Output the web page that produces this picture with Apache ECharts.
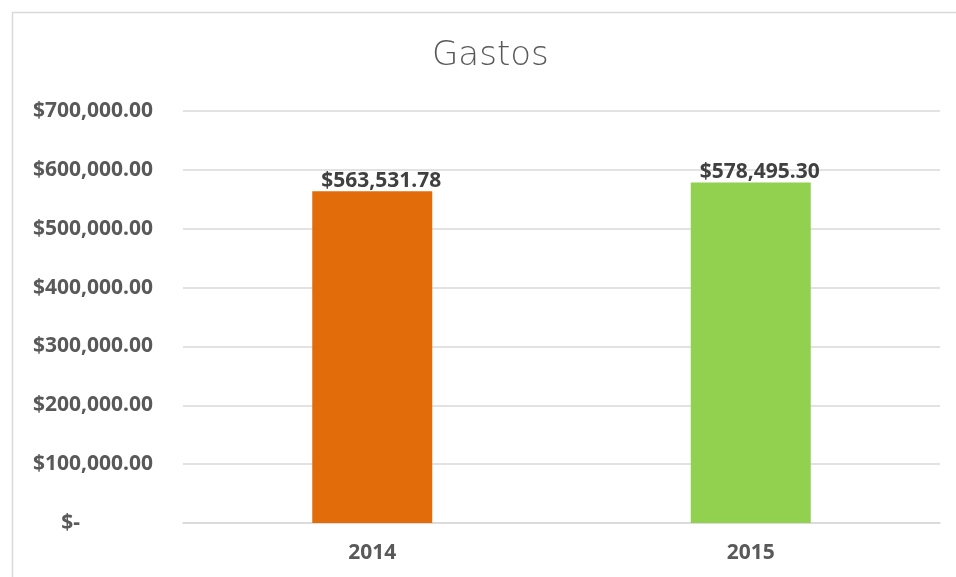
<!DOCTYPE html>
<html><head><meta charset="utf-8">
<script src="https://cdn.jsdelivr.net/npm/echarts@6/dist/echarts.min.js"></script>
<style>html,body{margin:0;padding:0;background:#fff;}#c{width:956px;height:577px;}</style>
</head><body><div id="c"></div>
<script>
const title = 'Gastos';
const categories = ['2014', '2015'];
const values = [563531.78, 578495.30];
const barColors = ['#E36C0A', '#92D050'];
const yTicks = [0, 100000, 200000, 300000, 400000, 500000, 600000, 700000];

function money(v) {
  if (v === 0) return '$-';
  return '$' + v.toLocaleString('en-US', {minimumFractionDigits: 2, maximumFractionDigits: 2});
}

const chart = echarts.init(document.getElementById('c'));
chart.setOption({
  animation: false,
  graphic: [{
    type: 'rect', left: 10, top: 10, z: -1,
    shape: {width: 1000, height: 700},
    style: {fill: 'none', stroke: '#d9d9d9', lineWidth: 1.5}
  }],
  title: {
    text: title, left: 427, top: 34,
    textStyle: {fontFamily: 'DejaVu Sans', fontWeight: 200, fontSize: 34, color: '#595959'}
  },
  grid: {left: 183, right: 16, top: 111, bottom: 54},
  xAxis: {
    type: 'category', data: categories,
    axisLine: {lineStyle: {color: '#d9d9d9', width: 1.5}},
    axisTick: {show: false},
    axisLabel: {margin: 20, fontFamily: 'Noto Sans', fontWeight: 'bold', fontSize: 21, color: '#595959'}
  },
  yAxis: {
    type: 'value', min: yTicks[0], max: yTicks[yTicks.length - 1], interval: yTicks[1] - yTicks[0],
    axisLine: {show: false}, axisTick: {show: false},
    splitLine: {lineStyle: {color: '#d9d9d9', width: 1.5}},
    axisLabel: {
      margin: 30, fontFamily: 'Noto Sans', fontWeight: 'bold', fontSize: 21, color: '#595959',
      formatter: v => v === 0 ? '{z|$-}' : money(v),
      rich: {z: {padding: [0, 73, 0, 0], fontFamily: 'Noto Sans', fontWeight: 'bold', fontSize: 21, color: '#595959'}}
    }
  },
  series: [{
    type: 'bar', barWidth: '31.7%',
    data: values.map((v, i) => ({value: v, itemStyle: {color: barColors[i]}})),
    label: {
      show: true, position: 'top', distance: 0, offset: [9, 0],
      fontFamily: 'Noto Sans', fontWeight: 'bold', fontSize: 21, color: '#404040',
      formatter: p => money(p.value)
    }
  }]
});
</script></body></html>
